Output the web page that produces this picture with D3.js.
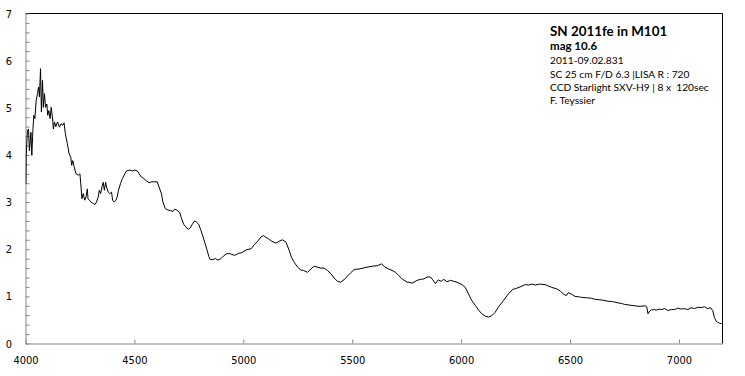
<!DOCTYPE html>
<html>
<head>
<meta charset="utf-8">
<script src="https://cdnjs.cloudflare.com/ajax/libs/d3/7.8.5/d3.min.js"></script>
<style>
    body { margin: 0; background: #fff; }
    svg { display: block; }
    .axis text { font-family: 'DejaVu Sans', sans-serif; font-stretch: condensed; font-size: 11px; fill: #000; }
    .info text { font-family: Lato, 'Open Sans', sans-serif; fill: #000; }
</style>
</head>
<body>
<svg id="chart"></svg>
<script>
// Spectrum (wavelength in A, relative flux)
const wavelengths = [
    4002, 4003, 4009, 4014, 4018, 4025, 4029, 4034, 4038, 4043, 4049, 4055, 4060, 4064, 4069, 4073,
    4078, 4082, 4087, 4092, 4098, 4102, 4107, 4113, 4118, 4125, 4128, 4133, 4139, 4147, 4156, 4163,
    4171, 4177, 4183, 4192, 4200, 4208, 4212, 4217, 4223, 4232, 4243, 4250, 4255, 4259, 4265, 4272,
    4278, 4284, 4287, 4293, 4301, 4311, 4319, 4326, 4334, 4339, 4345, 4351, 4357, 4362, 4368, 4372,
    4380, 4387, 4395, 4400, 4407, 4415, 4421, 4427, 4436, 4445, 4456, 4464, 4479, 4491, 4502, 4513,
    4522, 4532, 4543, 4555, 4567, 4578, 4593, 4605, 4613, 4624, 4631, 4642, 4654, 4665, 4677, 4685,
    4695, 4708, 4715, 4726, 4738, 4749, 4756, 4766, 4776, 4784, 4795, 4804, 4814, 4824, 4833, 4842,
    4848, 4860, 4872, 4883, 4894, 4906, 4921, 4936, 4947, 4959, 4970, 4981, 4990, 5016, 5036, 5051,
    5066, 5081, 5093, 5104, 5115, 5130, 5150, 5165, 5180, 5196, 5211, 5221, 5234, 5249, 5264, 5276,
    5295, 5310, 5325, 5340, 5356, 5371, 5386, 5402, 5417, 5432, 5447, 5462, 5478, 5493, 5509, 5531,
    5550, 5569, 5592, 5615, 5635, 5650, 5668, 5683, 5699, 5714, 5729, 5752, 5760, 5775, 5798, 5813,
    5829, 5844, 5859, 5870, 5882, 5895, 5908, 5920, 5935, 5951, 5966, 5981, 6004, 6019, 6034, 6049,
    6065, 6080, 6095, 6111, 6126, 6141, 6156, 6171, 6194, 6217, 6237, 6248, 6271, 6294, 6310, 6325,
    6340, 6360, 6385, 6400, 6416, 6438, 6454, 6469, 6476, 6484, 6492, 6500, 6510, 6522, 6540, 6553,
    6575, 6598, 6612, 6629, 6650, 6670, 6690, 6705, 6721, 6736, 6750, 6766, 6780, 6797, 6812, 6826,
    6845, 6852, 6858, 6866, 6873, 6885, 6896, 6910, 6919, 6935, 6949, 6965, 6980, 6995, 7010, 7025,
    7041, 7056, 7071, 7087, 7102, 7117, 7132, 7145, 7155, 7163, 7170, 7178, 7186, 7196
];
const fluxes = [
    3.39, 3.95, 4.52, 4.55, 4.09, 4.48, 3.99, 4.52, 4.84, 4.77, 5.15, 5.30, 5.44, 5.23, 5.83, 4.91,
    5.58, 5.01, 5.30, 5.01, 5.08, 4.84, 4.94, 4.77, 5.01, 4.74, 4.55, 4.70, 4.60, 4.70, 4.59, 4.66,
    4.63, 4.68, 4.45, 4.24, 4.03, 3.95, 3.78, 3.88, 3.75, 3.60, 3.57, 3.60, 3.32, 3.07, 3.18, 3.04,
    3.11, 3.28, 3.07, 3.04, 3.00, 2.97, 2.95, 3.00, 3.11, 3.25, 3.18, 3.32, 3.42, 3.25, 3.42, 3.32,
    3.21, 3.18, 3.21, 3.04, 3.00, 3.04, 3.11, 3.25, 3.39, 3.50, 3.60, 3.66, 3.68, 3.66, 3.68, 3.66,
    3.60, 3.53, 3.50, 3.45, 3.41, 3.43, 3.43, 3.43, 3.32, 3.18, 3.00, 2.86, 2.83, 2.82, 2.80, 2.85,
    2.83, 2.78, 2.67, 2.53, 2.46, 2.42, 2.45, 2.53, 2.60, 2.58, 2.53, 2.42, 2.28, 2.13, 1.99, 1.84,
    1.78, 1.78, 1.80, 1.77, 1.79, 1.84, 1.90, 1.91, 1.89, 1.87, 1.89, 1.92, 1.92, 1.99, 2.01, 2.10,
    2.17, 2.26, 2.29, 2.25, 2.22, 2.17, 2.13, 2.17, 2.20, 2.15, 1.97, 1.83, 1.72, 1.62, 1.56, 1.55,
    1.51, 1.58, 1.64, 1.62, 1.60, 1.60, 1.55, 1.48, 1.39, 1.32, 1.30, 1.35, 1.43, 1.50, 1.57, 1.58,
    1.60, 1.62, 1.64, 1.65, 1.69, 1.62, 1.58, 1.55, 1.51, 1.44, 1.37, 1.30, 1.30, 1.28, 1.34, 1.36,
    1.37, 1.41, 1.41, 1.35, 1.27, 1.35, 1.32, 1.36, 1.31, 1.34, 1.32, 1.30, 1.25, 1.19, 1.05, 0.91,
    0.81, 0.71, 0.63, 0.58, 0.56, 0.59, 0.66, 0.77, 0.91, 1.05, 1.15, 1.16, 1.20, 1.25, 1.24, 1.26,
    1.24, 1.26, 1.25, 1.22, 1.19, 1.16, 1.12, 1.05, 1.03, 1.02, 1.08, 1.06, 1.04, 1.00, 0.99, 0.98,
    0.97, 0.96, 0.94, 0.93, 0.92, 0.90, 0.89, 0.88, 0.86, 0.85, 0.83, 0.82, 0.81, 0.80, 0.79, 0.79,
    0.80, 0.78, 0.63, 0.69, 0.71, 0.72, 0.71, 0.73, 0.72, 0.74, 0.70, 0.72, 0.72, 0.75, 0.73, 0.74,
    0.72, 0.76, 0.74, 0.77, 0.76, 0.78, 0.74, 0.76, 0.70, 0.55, 0.48, 0.45, 0.43, 0.42
];

const xTickValues = [4000, 4500, 5000, 5500, 6000, 6500, 7000];
const yTickValues = [0, 1, 2, 3, 4, 5, 6, 7];

const infoLines = [
    'SN 2011fe in M101',
    'mag 10.6',
    '2011-09.02.831',
    'SC 25 cm F/D 6.3 |LISA R : 720',
    'CCD Starlight SXV-H9 | 8 x  120sec',
    'F. Teyssier'
];

class SpectrumChart {

    constructor(_config) {
        this.config = {
            parentElement: _config.parentElement,
            containerWidth: 745,
            containerHeight: 376,
            plot: { left: 25.5, right: 722.5, top: 13.5, bottom: 343.5 },
            axisColour: '#868686',
            frameColour: '#000',
            lineColour: '#000',
            infoX: 550,
            // baseline, size, weight for each info line
            infoStyle: [
                { y: 35.5, size: 13.4, weight: 'bold' },
                { y: 50, size: 11.5, weight: 'bold' },
                { y: 63.5, size: 10.2, weight: 'normal' },
                { y: 77.5, size: 10.2, weight: 'normal' },
                { y: 91, size: 10.2, weight: 'normal' },
                { y: 104, size: 10.2, weight: 'normal' }
            ]
        };
        this.data = wavelengths.map((w, i) => ({ w: w, f: fluxes[i] }));
        this.initVis();
    }

    initVis() {
        let vis = this;
        let p = vis.config.plot;

        vis.svg = d3.select(vis.config.parentElement)
            .attr('width', vis.config.containerWidth)
            .attr('height', vis.config.containerHeight);

        vis.xScale = d3.scaleLinear()
            .domain([4000, 7200])
            .range([p.left, p.right]);

        vis.yScale = d3.scaleLinear()
            .domain([0, 7])
            .range([p.bottom, p.top]);

        // minor ticks every 0.2, labels on whole numbers only
        let yMinor = d3.range(0, 36).map(i => i / 5);

        vis.yAxis = d3.axisLeft(vis.yScale)
            .tickValues(yMinor)
            .tickFormat(d => {
                let r = Math.round(d);
                return Math.abs(d - r) < 1e-6 && yTickValues.includes(r) ? d3.format('d')(r) : '';
            })
            .tickSizeInner(-4)
            .tickSizeOuter(0)
            .tickPadding(13.5);

        vis.xAxis = d3.axisBottom(vis.xScale)
            .tickValues(xTickValues)
            .tickFormat(d3.format('d'))
            .tickSizeInner(-4)
            .tickSizeOuter(0)
            .tickPadding(13);

        // frame: top and right in black
        vis.svg.append('line')
            .attr('x1', p.left).attr('x2', p.right)
            .attr('y1', p.top).attr('y2', p.top)
            .attr('stroke', vis.config.frameColour);
        vis.svg.append('line')
            .attr('x1', p.right).attr('x2', p.right)
            .attr('y1', p.top).attr('y2', p.bottom)
            .attr('stroke', vis.config.frameColour);

        vis.yAxisG = vis.svg.append('g')
            .attr('class', 'axis')
            .attr('transform', `translate(${p.left},0)`)
            .call(vis.yAxis);

        vis.xAxisG = vis.svg.append('g')
            .attr('class', 'axis')
            .attr('transform', `translate(0,${p.bottom})`)
            .call(vis.xAxis);

        vis.svg.selectAll('.axis .domain, .axis .tick line')
            .attr('stroke', vis.config.axisColour);

        vis.svg.append('clipPath')
            .attr('id', 'plot-clip')
            .append('rect')
            .attr('x', p.left).attr('y', p.top)
            .attr('width', p.right - p.left).attr('height', p.bottom - p.top);

        vis.line = d3.line()
            .x(d => vis.xScale(d.w))
            .y(d => vis.yScale(d.f));

        vis.svg.append('path')
            .datum(vis.data)
            .attr('clip-path', 'url(#plot-clip)')
            .attr('fill', 'none')
            .attr('stroke', vis.config.lineColour)
            .attr('stroke-width', 1)
            .attr('stroke-linejoin', 'round')
            .attr('d', vis.line);

        vis.info = vis.svg.append('g').attr('class', 'info');
        vis.info.selectAll('text')
            .data(infoLines)
            .join('text')
            .attr('x', vis.config.infoX)
            .attr('y', (d, i) => vis.config.infoStyle[i].y)
            .attr('font-size', (d, i) => vis.config.infoStyle[i].size + 'px')
            .attr('font-weight', (d, i) => vis.config.infoStyle[i].weight)
            .style('white-space', 'pre')
            .text(d => d);
    }
}

const chart = new SpectrumChart({ parentElement: '#chart' });
</script>
</body>
</html>
